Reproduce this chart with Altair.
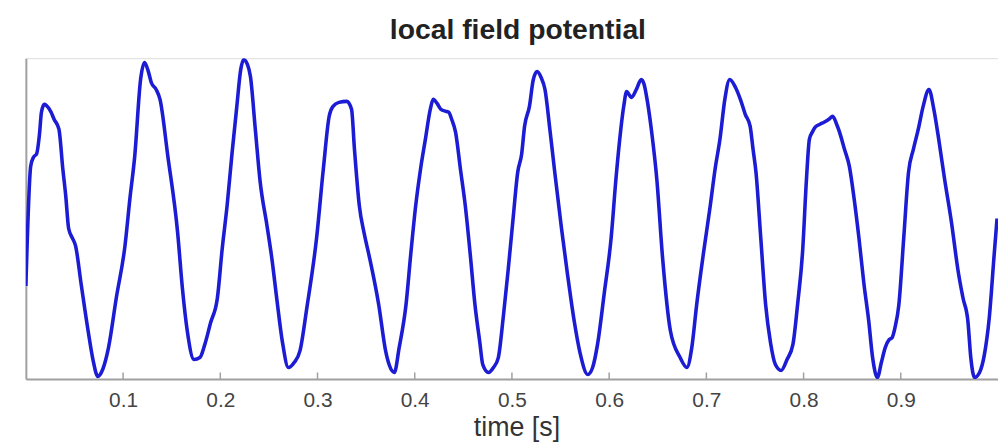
import altair as alt
import pandas as pd

# time [s]
time_s = [
    0.000, 0.005, 0.008, 0.011, 0.014, 0.016, 0.019, 0.021, 0.026, 0.029,
    0.034, 0.038, 0.041, 0.044, 0.048, 0.051, 0.057, 0.064, 0.069, 0.074,
    0.079, 0.085, 0.093, 0.102, 0.107, 0.112, 0.118, 0.122, 0.126, 0.129,
    0.134, 0.138, 0.146, 0.156, 0.161, 0.166, 0.173, 0.179, 0.184, 0.190,
    0.197, 0.202, 0.207, 0.212, 0.217, 0.221, 0.224, 0.228, 0.231, 0.236,
    0.241, 0.248, 0.253, 0.258, 0.264, 0.270, 0.276, 0.282, 0.289, 0.299,
    0.306, 0.312, 0.316, 0.322, 0.330, 0.335, 0.338, 0.343, 0.348, 0.353,
    0.363, 0.370, 0.374, 0.379, 0.384, 0.391, 0.396, 0.401, 0.406, 0.411,
    0.416, 0.419, 0.423, 0.427, 0.432, 0.435, 0.438, 0.442, 0.447, 0.452,
    0.457, 0.462, 0.467, 0.470, 0.476, 0.481, 0.486, 0.491, 0.496, 0.501,
    0.506, 0.510, 0.513, 0.518, 0.522, 0.526, 0.530, 0.534, 0.539, 0.544,
    0.551, 0.557, 0.564, 0.570, 0.578, 0.583, 0.588, 0.595, 0.602, 0.607,
    0.612, 0.615, 0.618, 0.621, 0.623, 0.628, 0.633, 0.636, 0.639, 0.644,
    0.649, 0.655, 0.663, 0.673, 0.680, 0.685, 0.690, 0.697, 0.704, 0.709,
    0.714, 0.719, 0.724, 0.730, 0.735, 0.740, 0.745, 0.748, 0.751, 0.756,
    0.761, 0.766, 0.771, 0.777, 0.783, 0.789, 0.794, 0.799, 0.803, 0.806,
    0.809, 0.812, 0.817, 0.821, 0.826, 0.830, 0.834, 0.837, 0.842, 0.847,
    0.852, 0.857, 0.862, 0.867, 0.871, 0.876, 0.880, 0.884, 0.888, 0.891,
    0.894, 0.898, 0.903, 0.908, 0.913, 0.918, 0.923, 0.929, 0.934, 0.939,
    0.945, 0.952, 0.959, 0.964, 0.969, 0.972, 0.976, 0.981, 0.986, 0.991,
    0.996, 0.999,
]

# LFP amplitude (arbitrary units)
lfp = [
    -68, 53, 62, 65, 85, 107, 115, 114, 107, 100,
    90, 50, 23, -10, -20, -27, -67, -113, -142, -159,
    -152, -130, -80, -27, 20, 63, 140, 157, 148, 137,
    130, 120, 63, -13, -70, -113, -142, -140, -127, -105,
    -80, -30, 13, 65, 113, 150, 160, 155, 143, 90,
    37, -7, -40, -80, -125, -150, -145, -133, -90, -20,
    50, 103, 113, 117, 118, 110, 70, 13, -15, -37,
    -87, -133, -148, -155, -130, -87, -35, 13, 50, 80,
    110, 120, 116, 110, 108, 107, 100, 87, 50, 13,
    -35, -87, -125, -147, -155, -150, -140, -100, -53, -2,
    47, 65, 93, 113, 140, 148, 142, 130, 90, 47,
    -10, -55, -103, -135, -157, -150, -127, -75, -20, 40,
    90, 113, 128, 124, 122, 130, 140, 135, 120, 85,
    40, -40, -113, -140, -150, -130, -87, -35, 13, 50,
    80, 120, 140, 132, 120, 105, 93, 70, 47, -20,
    -87, -125, -147, -153, -142, -127, -85, -33, 40, 80,
    87, 92, 95, 97, 100, 103, 95, 87, 70, 53,
    20, -20, -65, -103, -140, -160, -145, -130, -122, -120,
    -110, -87, -20, 47, 70, 90, 113, 130, 110, 80,
    40, -3, -53, -80, -103, -140, -160, -155, -137, -100,
    -37, 0,
]

tick_values = [0.1, 0.2, 0.3, 0.4, 0.5, 0.6, 0.7, 0.8, 0.9]

x_domain = [0, 1]
y_domain = [-161.5, 161.5]
tick_len = 6.5

df = pd.DataFrame({"t": time_s, "v": lfp})
ticks_df = pd.DataFrame({
    "t": tick_values,
    "y0": [y_domain[0]] * len(tick_values),
    "y1": [y_domain[0] + tick_len] * len(tick_values),
})

FONT = "Liberation Sans"
AXIS_GRAY = "#a0a0a0"

x_scale = alt.Scale(domain=x_domain, nice=False, zero=False)
y_scale = alt.Scale(domain=y_domain, nice=False, zero=False)

line = alt.Chart(df).mark_line(
    color="#1c1cd4", strokeWidth=3.6, interpolate="monotone", clip=True
).encode(
    x=alt.X("t:Q", scale=x_scale, title="time [s]",
            axis=alt.Axis(values=tick_values, format=".1f", grid=False,
                          ticks=False, tickSize=0, labelPadding=11,
                          labelFontSize=21, labelColor="#444444", labelFont=FONT,
                          titleFontSize=27, titleFont=FONT, titleFontWeight="normal",
                          titleColor="#333333", titlePadding=4, titleX=494,
                          domainColor=AXIS_GRAY, domainWidth=2)),
    y=alt.Y("v:Q", scale=y_scale, title=None,
            axis=alt.Axis(labels=False, ticks=False, grid=False,
                          domainColor=AXIS_GRAY, domainWidth=2)),
)

tick_marks = alt.Chart(ticks_df).mark_rule(color=AXIS_GRAY, strokeWidth=1.5).encode(
    x=alt.X("t:Q", scale=x_scale),
    y=alt.Y("y0:Q", scale=y_scale),
    y2="y1:Q",
)

chart = alt.layer(tick_marks, line).properties(
    width=979,
    height=323,
    title=alt.TitleParams("local field potential", fontSize=28.5, font=FONT,
                          fontWeight="bold", color="#222222", offset=14,
                          anchor="middle", dx=6),
    padding={"left": 18, "top": 6, "right": 0, "bottom": 0},
).configure_view(stroke=None).configure(background="white")

chart.save("out.html", embed_options={"renderer": "svg", "actions": False})
